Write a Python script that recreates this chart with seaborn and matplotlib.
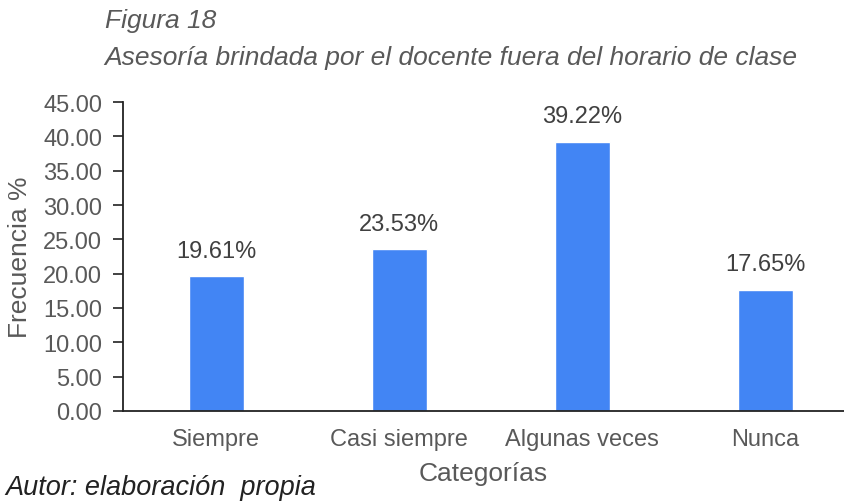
import matplotlib
matplotlib.use("Agg")
import matplotlib.pyplot as plt
import seaborn as sns
import pandas as pd

categorias = ["Siempre", "Casi siempre", "Algunas veces", "Nunca"]
frecuencia = [19.61, 23.53, 39.22, 17.65]
y_ticks = [0, 5, 10, 15, 20, 25, 30, 35, 40, 45]

df = pd.DataFrame({"Categorías": categorias, "Frecuencia": frecuencia})

sns.set_style("white")
plt.rcParams["font.family"] = ["Liberation Sans", "DejaVu Sans"]
gris = "#595959"

fig = plt.figure(figsize=(8.44, 5.02), dpi=100)
ax = fig.add_axes([0.1457, 0.1793, 0.8543, 0.6155])

sns.barplot(data=df, x="Categorías", y="Frecuencia", color="#4285F4",
            saturation=1, width=0.3, ax=ax)

# etiquetas de valor sobre cada barra
for i, v in enumerate(frecuencia):
    ax.text(i, v + 3.7, f"{v:.2f}%", ha="center", va="center",
            fontsize=17, color="#404040")

ax.set_ylim(0, 45)
ax.set_xlim(-0.51, 3.43)
ax.set_yticks(y_ticks)
ax.set_yticklabels([f"{t:.2f}" for t in y_ticks], fontsize=17, color=gris)
ax.tick_params(axis="x", labelsize=17, labelcolor=gris, length=0, pad=12)
ax.tick_params(axis="y", left=True, length=7, width=1.2, color="#222222", pad=8)

for s in ["top", "right"]:
    ax.spines[s].set_visible(False)
for s in ["left", "bottom"]:
    ax.spines[s].set_color("#222222")
    ax.spines[s].set_linewidth(1.3)

ax.set_xlabel("Categorías", fontsize=19, color=gris, labelpad=8)
ax.set_ylabel("Frecuencia %", fontsize=19, color=gris, labelpad=8)

fig.text(0.124, 0.958, "Figura 18", fontsize=19, style="italic", color=gris,
         va="center")
fig.text(0.124, 0.885, "Asesoría brindada por el docente fuera del horario de clase",
         fontsize=19, style="italic", color=gris, va="center")
fig.text(0.006, 0.028, "Autor: elaboración  propia", fontsize=19.5, style="italic",
         color="#222222", va="center")

fig.savefig("out.png", dpi=100)
